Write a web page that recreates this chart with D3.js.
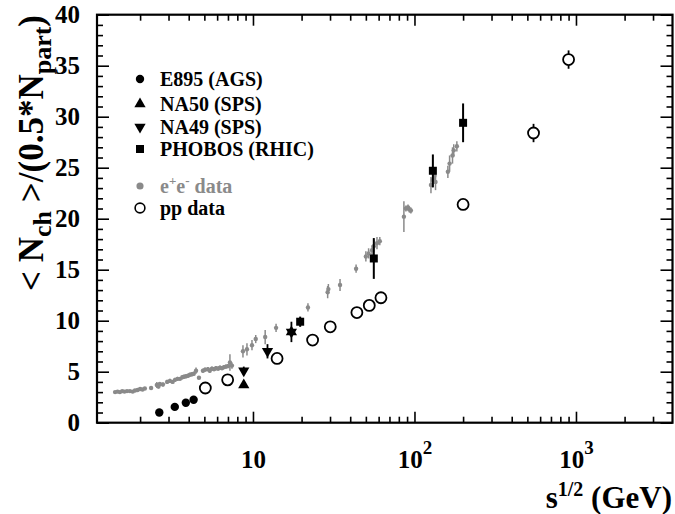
<!DOCTYPE html>
<html>
<head>
<meta charset="utf-8">
<script src="https://cdn.jsdelivr.net/npm/d3@7"></script>
<style>
  body { margin: 0; background: #fff; }
  text { font-family: "Liberation Serif", "Times New Roman", serif; font-weight: bold; }
</style>
</head>
<body>
<div id="container"></div>
<script>
/* DATA  [sqrt(s) GeV, value, error] */
const e895 = [[2.63, 1.0], [3.28, 1.55], [3.84, 1.95], [4.29, 2.25]]
const na50 = [[8.77, 3.7], [17.3, 8.9]]
const na49 = [[8.77, 5.1, 0.4], [12.3, 7.0, 0.7], [17.3, 8.9, 1.0]]
const phobos = [[19.6, 9.9, 0.5], [56, 16.1, 2.0], [130, 24.7, 1.6], [200, 29.4, 1.9]]
const ppData = [[5.07, 3.4, 0], [6.97, 4.2, 0], [14.1, 6.3, 0], [23.4, 8.1, 0], [30.1, 9.4, 0],
  [44, 10.8, 0], [52.5, 11.5, 0], [62, 12.25, 0], [200, 21.4, 0], [546, 28.4, 0.9], [900, 35.6, 0.9]]
const eeData = [
  [1.40, 3.0, 0.1], [1.45, 3.05, 0.1], [1.50, 3.0, 0.1], [1.55, 3.1, 0.1], [1.60, 3.05, 0.1],
  [1.66, 3.1, 0.1], [1.73, 3.1, 0.1], [1.80, 3.05, 0.1], [1.86, 3.15, 0.1], [1.93, 3.2, 0.1],
  [2.00, 3.3, 0.1], [2.07, 3.25, 0.1], [2.14, 3.35, 0.1], [2.34, 3.4, 0.1], [2.54, 3.7, 0.3],
  [2.60, 3.55, 0.2], [2.65, 3.8, 0.2], [2.77, 3.75, 0.2], [2.94, 4.0, 0.2], [3.06, 4.1, 0.2],
  [3.18, 4.0, 0.15], [3.29, 4.2, 0.2], [3.41, 4.3, 0.2], [3.53, 4.3, 0.15], [3.65, 4.45, 0.2],
  [3.74, 4.5, 0.2], [3.85, 4.55, 0.2], [3.96, 4.6, 0.2], [4.07, 4.7, 0.2], [4.19, 4.75, 0.2],
  [4.30, 4.8, 0.2], [4.44, 5.1, 0.3], [4.63, 4.4, 0.15], [4.90, 5.1, 0.2], [5.05, 5.2, 0.2],
  [5.26, 5.25, 0.2], [5.40, 5.1, 0.2], [5.57, 5.3, 0.2], [5.74, 5.25, 0.2], [5.90, 5.35, 0.2],
  [6.08, 5.3, 0.2], [6.25, 5.4, 0.2], [6.43, 5.35, 0.2], [6.61, 5.45, 0.2], [6.80, 5.5, 0.2],
  [7.00, 5.55, 0.2], [7.20, 5.9, 0.8], [7.41, 5.6, 0.3],
  [8.67, 7.0, 0.6], [9.18, 7.2, 0.6], [9.86, 7.6, 0.5], [10.4, 8.2, 0.4], [11.9, 8.4, 0.7],
  [13.9, 9.3, 0.4], [21.9, 11.3, 0.4], [29.0, 12.8, 0.6], [29.3, 13.1, 0.5], [34.6, 13.5, 0.6],
  [43.5, 15.1, 0.4], [50, 16.3, 0.5], [52, 16.6, 0.5], [54.6, 16.9, 0.5], [56, 17.3, 0.6],
  [58.6, 17.6, 0.6], [61, 17.8, 0.4], [86, 20.2, 1.5], [88.5, 21.0, 0.3], [91.2, 21.1, 0.3],
  [93, 20.9, 0.3], [95, 20.8, 0.3], [126.5, 23.3, 0.8], [130, 23.8, 0.8], [133, 24.2, 0.6],
  [135, 23.6, 0.8], [161, 24.6, 0.6], [165, 25.4, 0.8], [172, 26.2, 0.8], [175, 26.7, 0.6],
  [183, 27.1, 0.5]
]

/* TICKS */
const yMajor = [0, 5, 10, 15, 20, 25, 30, 35, 40]
const yMinor = d3.range(0, 41).filter(v => v % 5 !== 0)
const xMajor = [10, 100, 1000]
const xMajorExp = ["", "2", "3"]
const xMinor = [2, 3, 4, 5, 6, 7, 8, 9, 20, 30, 40, 50, 60, 70, 80, 90,
  200, 300, 400, 500, 600, 700, 800, 900, 2000, 3000]

/* LEGEND */
const legendLabels = ["E895 (AGS)", "NA50 (SPS)", "NA49 (SPS)", "PHOBOS (RHIC)", "e+e- data", "pp data"]

/* CONSTANTS */
const W = 675, H = 514
const margin = {top: 14.7, right: 2.5, bottom: 91.3, left: 97}
const width = W - margin.left - margin.right
const height = H - margin.top - margin.bottom
const gray = "#8a8a8a"

const svg = d3.select("#container").append("svg")
  .attr("width", W).attr("height", H)
const g = svg.append("g")
  .attr("transform", `translate(${margin.left},${margin.top})`)

// SCALES
const xScale = d3.scaleLog().domain([1.082, 3960]).range([0, width])
const yScale = d3.scaleLinear().domain([0, 40]).range([height, 0])

// AXES (ticks inward on all four sides)
function strip(sel) { sel.select(".domain").remove(); sel.selectAll("line").attr("stroke-width", 1.6) }

g.append("g").call(d3.axisLeft(yScale).tickValues(yMajor).tickSize(-12).tickPadding(17))
  .call(strip)
  .call(s => s.selectAll("text").attr("font-size", 25).attr("fill", "#000")
    .style("font-family", '"Liberation Serif", serif'))
g.append("g").call(d3.axisLeft(yScale).tickValues(yMinor).tickSize(-6).tickFormat("")).call(strip)
g.append("g").attr("transform", `translate(${width},0)`)
  .call(d3.axisRight(yScale).tickValues(yMajor).tickSize(-12).tickFormat("")).call(strip)
g.append("g").attr("transform", `translate(${width},0)`)
  .call(d3.axisRight(yScale).tickValues(yMinor).tickSize(-6).tickFormat("")).call(strip)

const xAx = g.append("g").attr("transform", `translate(0,${height})`)
  .call(d3.axisBottom(xScale).tickValues(xMajor).tickSize(-11).tickFormat(""))
  .call(strip)
g.append("g").attr("transform", `translate(0,${height})`)
  .call(d3.axisBottom(xScale).tickValues(xMinor).tickSize(-6).tickFormat("")).call(strip)
g.append("g")
  .call(d3.axisTop(xScale).tickValues(xMajor).tickSize(-11).tickFormat("")).call(strip)
g.append("g")
  .call(d3.axisTop(xScale).tickValues(xMinor).tickSize(-6).tickFormat("")).call(strip)

// x tick labels with exponents
xAx.selectAll(".tick").each(function(d, i) {
  const t = d3.select(this).append("text")
    .attr("y", 45).attr("fill", "#000").attr("font-size", 25)
    .attr("text-anchor", "middle")
  t.append("tspan").text("10")
  if (xMajorExp[i]) t.append("tspan").attr("dy", -14).attr("font-size", 19).text(xMajorExp[i])
})

// frame
g.append("rect").attr("width", width).attr("height", height)
  .attr("fill", "none").attr("stroke", "#000").attr("stroke-width", 2.2)

// AXIS TITLES
const yt = svg.append("text")
  .attr("transform", "translate(43,15) rotate(-90)")
  .attr("text-anchor", "end").attr("font-size", 35).attr("fill", "#000")
yt.append("tspan").text("< N")
yt.append("tspan").attr("font-size", 26).attr("dy", 8).text("ch")
yt.append("tspan").attr("dy", -8).text(" >/(0.5*N")
yt.append("tspan").attr("font-size", 26).attr("dy", 8).text("part")
yt.append("tspan").attr("dy", -8).text(")")

const xt = svg.append("text")
  .attr("x", 672).attr("y", 508)
  .attr("text-anchor", "end").attr("font-size", 31).attr("fill", "#000")
xt.append("tspan").text("s")
xt.append("tspan").attr("font-size", 20).attr("dy", -12).text("1/2")
xt.append("tspan").attr("dy", 12).text(" (GeV)")

// DATA LAYERS
const sym = (type, size) => d3.symbol().type(type).size(size)

function errBars(data, color, w) {
  g.append("g").selectAll("line")
    .data(data.filter(d => d[2] > 0))
    .join("line")
    .attr("x1", d => xScale(d[0])).attr("x2", d => xScale(d[0]))
    .attr("y1", d => yScale(d[1] - d[2])).attr("y2", d => yScale(d[1] + d[2]))
    .attr("stroke", color).attr("stroke-width", w)
}

// e+e- data
errBars(eeData, gray, 1.5)
g.append("g").selectAll("circle")
  .data(eeData).join("circle")
  .attr("cx", d => xScale(d[0])).attr("cy", d => yScale(d[1]))
  .attr("r", 2.2).attr("fill", gray)

// pp data
errBars(ppData, "#000", 1.8)
g.append("g").selectAll("circle")
  .data(ppData).join("circle")
  .attr("cx", d => xScale(d[0])).attr("cy", d => yScale(d[1]))
  .attr("r", 5.5).attr("fill", "#fff").attr("stroke", "#000").attr("stroke-width", 1.8)

// E895
g.append("g").selectAll("circle")
  .data(e895).join("circle")
  .attr("cx", d => xScale(d[0])).attr("cy", d => yScale(d[1]))
  .attr("r", 4.2).attr("fill", "#000")

// NA49
errBars(na49, "#000", 1.8)
g.append("g").selectAll("path")
  .data(na49).join("path")
  .attr("d", sym(d3.symbolTriangle, 55))
  .attr("transform", d => `translate(${xScale(d[0])},${yScale(d[1])}) rotate(180)`)
  .attr("fill", "#000")

// NA50
g.append("g").selectAll("path")
  .data(na50).join("path")
  .attr("d", sym(d3.symbolTriangle, 55))
  .attr("transform", d => `translate(${xScale(d[0])},${yScale(d[1])})`)
  .attr("fill", "#000")

// PHOBOS
errBars(phobos, "#000", 2)
g.append("g").selectAll("path")
  .data(phobos).join("path")
  .attr("d", sym(d3.symbolSquare, 64))
  .attr("transform", d => `translate(${xScale(d[0])},${yScale(d[1])})`)
  .attr("fill", "#000")

// LEGEND
const legendY = [79, 104, 127, 149, 186, 208]
const lg = svg.append("g")
const markers = [
  {type: d3.symbolCircle, size: 55, rot: 0, fill: "#000", stroke: "none"},
  {type: d3.symbolTriangle, size: 55, rot: 0, fill: "#000", stroke: "none"},
  {type: d3.symbolTriangle, size: 55, rot: 180, fill: "#000", stroke: "none"},
  {type: d3.symbolSquare, size: 64, rot: 0, fill: "#000", stroke: "none"},
  {type: d3.symbolCircle, size: 40, rot: 0, fill: gray, stroke: "none"},
  {type: d3.symbolCircle, size: 75, rot: 0, fill: "#fff", stroke: "#000"}
]
legendLabels.forEach((lab, i) => {
  const m = markers[i]
  lg.append("path")
    .attr("d", sym(m.type, m.size))
    .attr("transform", `translate(140,${legendY[i]}) rotate(${m.rot})`)
    .attr("fill", m.fill).attr("stroke", m.stroke).attr("stroke-width", 1.6)
  const t = lg.append("text").attr("x", 160).attr("y", legendY[i])
    .attr("dy", "0.35em").attr("font-size", 20)
    .attr("fill", i === 4 ? gray : "#000")
  if (i === 4) {
    t.append("tspan").text("e")
    t.append("tspan").attr("dy", -8).attr("font-size", 13).text("+")
    t.append("tspan").attr("dy", 8).text("e")
    t.append("tspan").attr("dy", -8).attr("font-size", 13).text("-")
    t.append("tspan").attr("dy", 8).text(" data")
  } else {
    t.text(lab)
  }
})
</script>
</body>
</html>
